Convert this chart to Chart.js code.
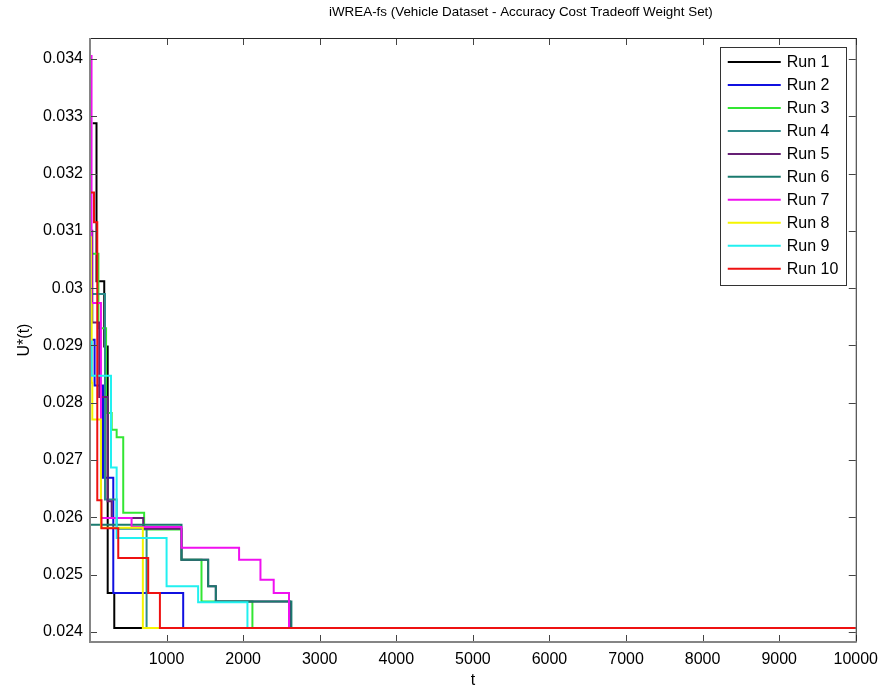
<!DOCTYPE html>
<html>
<head>
<meta charset="utf-8">
<title>iWREA-fs</title>
<script src="https://cdn.jsdelivr.net/npm/chart.js@4.4.1/dist/chart.umd.min.js"></script>
<style>
  html, body { margin: 0; padding: 0; background: #fff; }
  canvas { display: block; }
</style>
</head>
<body>
<canvas id="runChart" width="886" height="691"></canvas>
<script>
// Step data: [t, U*(t)] pairs, each value held until the next t
const run1 = [[35, 0.03288], [85, 0.03012], [186, 0.02898], [231, 0.02468], [317, 0.02407], [10000, 0.02407]];
const run2 = [[15, 0.02910], [60, 0.02830], [170, 0.02669], [304, 0.02468], [1217, 0.02407], [10000, 0.02407]];
const run3 = [[10, 0.03060], [110, 0.02930], [210, 0.02782], [283, 0.02753], [348, 0.02740], [434, 0.02608], [707, 0.02579], [1195, 0.02526], [1456, 0.02453], [2121, 0.02407], [10000, 0.02407]];
const run4 = [[15, 0.02990], [196, 0.02631], [348, 0.02580], [739, 0.02407], [10000, 0.02407]];
const run5 = [[5, 0.03100], [30, 0.02940], [120, 0.02810], [230, 0.02628], [283, 0.02599], [695, 0.02580], [1195, 0.02526], [1543, 0.02480], [1643, 0.02453], [2612, 0.02407], [10000, 0.02407]];
const run6 = [[0, 0.02587], [1195, 0.02526], [1543, 0.02480], [1643, 0.02453], [2630, 0.02407], [10000, 0.02407]];
const run7 = [[8, 0.03405], [20, 0.02974], [143, 0.02599], [543, 0.02583], [1195, 0.02547], [1947, 0.02526], [2226, 0.02491], [2399, 0.02468], [2599, 0.02407], [10000, 0.02407]];
const run8 = [[3, 0.03089], [12, 0.02971], [22, 0.02835], [30, 0.02771], [143, 0.02582], [690, 0.02407], [10000, 0.02407]];
const run9 = [[5, 0.02907], [22, 0.02847], [274, 0.02687], [348, 0.02564], [1000, 0.02480], [1412, 0.02452], [2056, 0.02407], [10000, 0.02407]];
const run10 = [[0, 0.03167], [52, 0.03115], [95, 0.02630], [150, 0.02581], [369, 0.02529], [760, 0.02468], [913, 0.02407], [10000, 0.02407]];

const runLabels = ['Run 1', 'Run 2', 'Run 3', 'Run 4', 'Run 5', 'Run 6', 'Run 7', 'Run 8', 'Run 9', 'Run 10'];
const xTicks = [1000, 2000, 3000, 4000, 5000, 6000, 7000, 8000, 9000, 10000];
const yTicks = [0.024, 0.025, 0.026, 0.027, 0.028, 0.029, 0.03, 0.031, 0.032, 0.033, 0.034];

const chartTitle = 'iWREA-fs (Vehicle Dataset - Accuracy Cost Tradeoff Weight Set)';
const xTitle = 't';
const yTitle = 'U*(t)';

const runColors = ['#000000', '#1010e0', '#33e633', '#2e8a8a', '#651f74', '#1a7a6e', '#f010f0', '#f5f500', '#22f0f0', '#ee1111'];
const FONT = '"Liberation Sans", Arial, Helvetica, sans-serif';

const runs = [run1, run2, run3, run4, run5, run6, run7, run8, run9, run10];

const datasets = runs.map((run, i) => ({
    label: runLabels[i],
    data: run.map(p => ({ x: p[0], y: p[1] })),
    borderColor: runColors[i],
    backgroundColor: runColors[i],
    borderWidth: 2,
    pointRadius: 0,
    stepped: true,
    fill: false,
    // later runs are painted over earlier ones, as in the original plot
    order: runs.length - i
}));

// Title, axes box, inward ticks and the boxed legend in the top-right corner
const matlabFrame = {
    id: 'matlabFrame',
    afterDraw(chart) {
        const { ctx, chartArea: a, scales: { x, y } } = chart;
        ctx.save();

        // title (sits a bit right of the axes centre in the original)
        ctx.fillStyle = '#000';
        ctx.font = '13.4px ' + FONT;
        ctx.textAlign = 'center';
        ctx.textBaseline = 'middle';
        ctx.fillText(chartTitle, (a.left + a.right) / 2 + 48, 12);

        // inward tick marks on all four sides
        const tl = 7;
        ctx.strokeStyle = '#444';
        ctx.lineWidth = 1;
        ctx.beginPath();
        xTicks.forEach(v => {
            const px = Math.round(x.getPixelForValue(v)) + 0.5;
            ctx.moveTo(px, a.bottom); ctx.lineTo(px, a.bottom - tl);
            ctx.moveTo(px, a.top); ctx.lineTo(px, a.top + tl);
        });
        yTicks.forEach(v => {
            const py = Math.round(y.getPixelForValue(v)) + 0.5;
            ctx.moveTo(a.left, py); ctx.lineTo(a.left + tl, py);
            ctx.moveTo(a.right, py); ctx.lineTo(a.right - tl, py);
        });
        ctx.stroke();

        // box: top/right dark, left/bottom greyer and a touch heavier
        ctx.strokeStyle = '#262626';
        ctx.beginPath();
        ctx.moveTo(a.left, a.top + 0.5); ctx.lineTo(a.right + 0.5, a.top + 0.5);
        ctx.lineTo(a.right + 0.5, a.bottom);
        ctx.stroke();
        ctx.strokeStyle = '#858585';
        ctx.lineWidth = 2;
        ctx.beginPath();
        ctx.moveTo(a.left, a.top); ctx.lineTo(a.left, a.bottom);
        ctx.lineTo(a.right + 1, a.bottom);
        ctx.stroke();

        // legend
        const lw = 126, rowH = 22.97;
        const lx = a.right - 10 - lw, ly = a.top + 8.5;
        const lh = rowH * runLabels.length + 8;
        ctx.fillStyle = '#fff';
        ctx.fillRect(lx, ly, lw, lh);
        ctx.strokeStyle = '#333';
        ctx.lineWidth = 1;
        ctx.strokeRect(Math.round(lx) + 0.5, Math.round(ly) + 0.5, lw, Math.round(lh));
        ctx.font = '16px ' + FONT;
        ctx.textAlign = 'left';
        ctx.textBaseline = 'middle';
        chart.data.datasets.forEach((ds, i) => {
            const cy = ly + 15.5 + i * rowH;
            ctx.strokeStyle = ds.borderColor;
            ctx.lineWidth = 2;
            ctx.beginPath();
            ctx.moveTo(lx + 8, cy); ctx.lineTo(lx + 61, cy);
            ctx.stroke();
            ctx.fillStyle = '#000';
            ctx.fillText(ds.label, lx + 67, cy + 1);
        });

        ctx.restore();
    }
};

new Chart(document.getElementById('runChart'), {
    type: 'line',
    data: { datasets: datasets },
    options: {
        responsive: false,
        animation: false,
        devicePixelRatio: 1,
        layout: {
            padding: { top: 38, right: 29, bottom: 0, left: 0 }
        },
        plugins: {
            legend: { display: false },
            title: { display: false },
            tooltip: { enabled: false }
        },
        scales: {
            x: {
                type: 'linear',
                min: 0,
                max: 10000,
                afterBuildTicks: scale => {
                    scale.ticks = xTicks.map(v => ({ value: v }));
                },
                afterFit: scale => { scale.height = 49; },
                grid: { display: false, drawTicks: false },
                border: { display: false },
                ticks: {
                    autoSkip: false,
                    maxRotation: 0,
                    padding: 8,
                    color: '#000',
                    font: { family: FONT, size: 16 },
                    callback: function (value) {
                        return String(value);
                    }
                },
                title: {
                    display: true,
                    text: xTitle,
                    color: '#000',
                    padding: { top: 0, bottom: 1 },
                    font: { family: FONT, size: 16 }
                }
            },
            y: {
                type: 'linear',
                min: 0.023825,
                max: 0.034366,
                afterBuildTicks: scale => {
                    scale.ticks = yTicks.map(v => ({ value: v }));
                },
                afterFit: scale => { scale.width = 90; },
                grid: { display: false, drawTicks: false },
                border: { display: false },
                ticks: {
                    padding: 7,
                    color: '#000',
                    font: { family: FONT, size: 16 },
                    callback: function (value) {
                        return String(Number(value.toFixed(3)));
                    }
                },
                title: {
                    display: true,
                    text: yTitle,
                    color: '#000',
                    padding: { top: 15, bottom: 0 },
                    font: { family: FONT, size: 16 }
                }
            }
        }
    },
    plugins: [matlabFrame]
});
</script>
</body>
</html>
